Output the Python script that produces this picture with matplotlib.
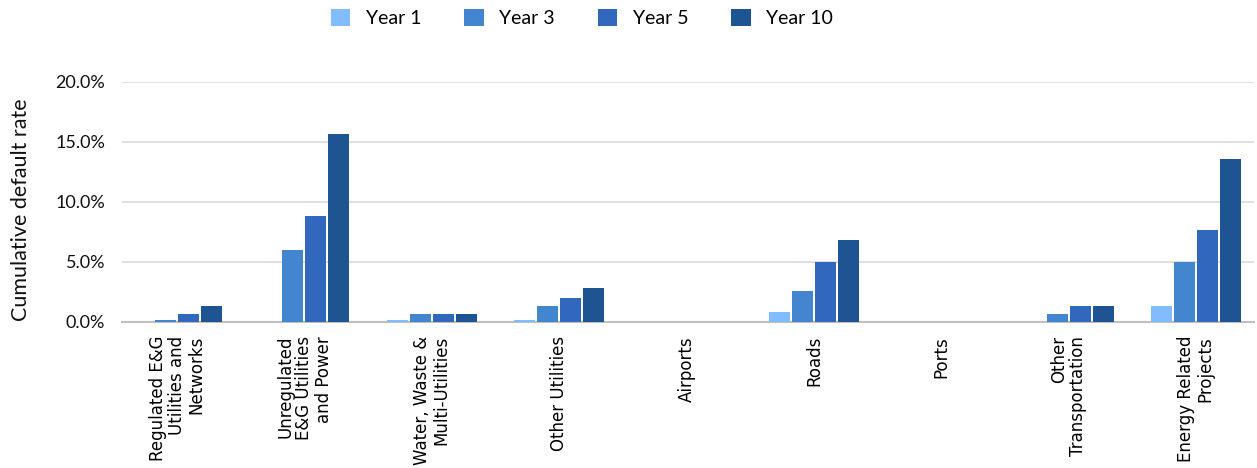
import numpy as np
import matplotlib
matplotlib.use("Agg")
import matplotlib.pyplot as plt
import matplotlib.ticker as ticker

# Datos (tasa de default acumulada, %)
categories = [
    "Regulated E&G\nUtilities and\nNetworks",
    "Unregulated\nE&G Utilities\nand Power",
    "Water, Waste &\nMulti-Utilities",
    "Other Utilities",
    "Airports",
    "Roads",
    "Ports",
    "Other\nTransportation",
    "Energy Related\nProjects",
]
series_names = ["Year 1", "Year 3", "Year 5", "Year 10"]
year1 = [0.0, 0.0, 0.15, 0.2, 0.0, 0.8, 0.0, 0.0, 1.3]
year3 = [0.2, 6.0, 0.7, 1.3, 0.0, 2.6, 0.0, 0.7, 5.0]
year5 = [0.7, 8.8, 0.7, 2.0, 0.0, 5.0, 0.0, 1.3, 7.7]
year10 = [1.3, 15.7, 0.7, 2.8, 0.0, 6.8, 0.0, 1.3, 13.6]
yticks = [0, 5, 10, 15, 20]

colors = ["#80BCFF", "#4485CF", "#3168BE", "#1F5493"]

fig = plt.figure(figsize=(12.57, 4.68), dpi=100)
ax = fig.add_axes([122 / 1257, 1 - 322 / 468, (1254 - 122) / 1257, 240 / 468])

x = np.arange(len(categories))
width = 0.165
step = 0.18
for i, (name, vals) in enumerate(zip(series_names, [year1, year3, year5, year10])):
    offset = (i - 1.5) * step
    ax.bar(x + offset, vals, width=width, color=colors[i], label=name, zorder=3)

ax.set_xlim(-0.432, 8.454)
ax.set_ylim(0, 20)
ax.set_yticks(yticks)
ax.yaxis.set_major_formatter(ticker.FuncFormatter(lambda v, _: f"{v:.1f}%"))
ax.grid(axis="y", color="#D9D9D9", linewidth=1.2, zorder=0)
for s in ["top", "right", "left"]:
    ax.spines[s].set_visible(False)
ax.spines["bottom"].set_color("#BFBFBF")
ax.spines["bottom"].set_linewidth(1.5)
ax.tick_params(axis="both", length=0)
ax.tick_params(axis="y", pad=12)
for lab in ax.get_yticklabels():
    lab.set_fontfamily("Lato")
    lab.set_fontsize(13)
    lab.set_color("#111111")

ax.set_xticks(x)
ax.set_xticklabels(categories, rotation=90, ha="center", va="top",
                   multialignment="right", fontsize=12,
                   fontfamily="DejaVu Sans", linespacing=1.1)
ax.tick_params(axis="x", pad=10)

ax.set_ylabel("Cumulative default rate", fontsize=15.5, fontfamily="Lato",
              color="#111111")
ax.yaxis.set_label_coords(-0.080, 0.47)

fig.legend(loc="upper center", bbox_to_anchor=(0.463, 1.018), ncol=4,
           frameon=False, handlelength=1.0, handleheight=1.0,
           columnspacing=2.2, handletextpad=0.8,
           prop={"family": "Lato", "size": 14})

plt.savefig("out.png", dpi=100)
plt.close()
